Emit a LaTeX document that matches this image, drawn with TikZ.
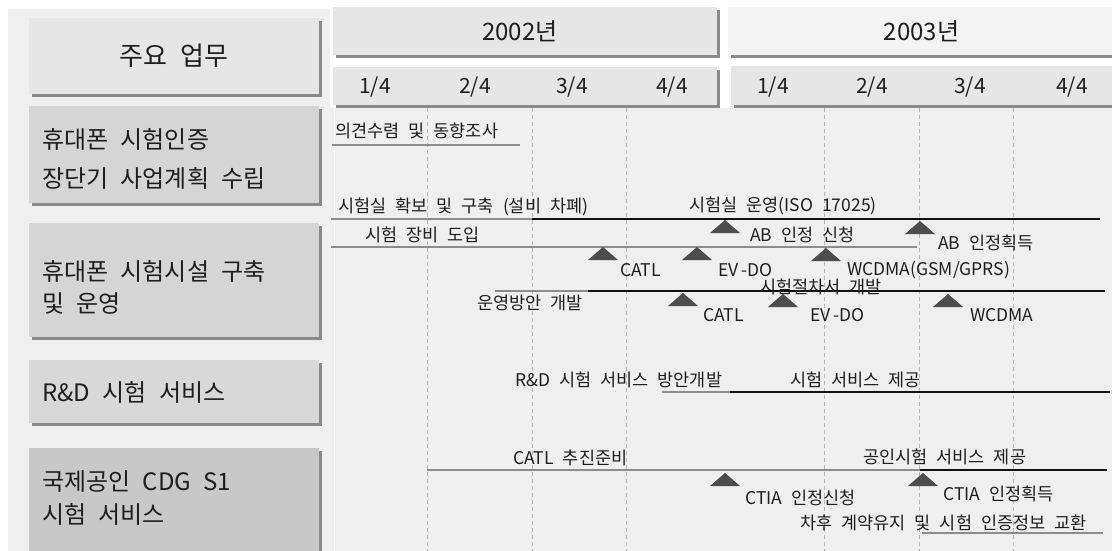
\documentclass[tikz,border=0pt]{standalone}
\usepackage{fontspec}
\setmainfont{Noto Sans CJK KR}[WordSpace=2.3]
\usetikzlibrary{shadows}
\definecolor{bgc}{HTML}{EFEFEF}
\definecolor{shd}{HTML}{8A8A8A}
\definecolor{hdr}{HTML}{E6E6E6}
\definecolor{hdrlight}{HTML}{F3F3F3}
\definecolor{boxA}{HTML}{D5D5D5}
\definecolor{boxB}{HTML}{D8D8D8}
\definecolor{boxC}{HTML}{C8C8C8}
\definecolor{txt}{HTML}{1E1E1E}
\definecolor{barg}{HTML}{8C8C8C}
\definecolor{bark}{HTML}{111111}
\definecolor{msc}{HTML}{4D4D4D}
\definecolor{gridc}{HTML}{B4B4B4}
\tikzset{
  sbox/.style={draw=none, inner sep=0pt, text=txt,
    drop shadow={shadow xshift=3pt, shadow yshift=-3pt, fill=shd, opacity=1}},
  ltext/.style={inner sep=0pt, anchor=west, align=left, text=txt},
  lab/.style={inner sep=0pt, anchor=west, text=txt, font=\fontsize{17.5}{20}\selectfont},
  qlab/.style={inner sep=0pt, text=txt, font=\fontsize{21}{24}\selectfont},
  graybar/.style={draw=barg, line width=1.6pt},
  blackbar/.style={draw=bark, line width=1.8pt},
  gridline/.style={draw=gridc, line width=0.8pt, dash pattern=on 4pt off 3pt},
  ms/.pic={\fill[msc] (-15,13) -- (0,0) -- (15,13) -- cycle;}
}
\begin{document}
\begin{tikzpicture}[x=1pt,y=-1pt]
\useasboundingbox (0,0) rectangle (1112,551);
\fill[white] (0,0) rectangle (1112,551);
\fill[bgc] (8,9) rectangle (330,551);
\fill[bgc] (330,108) rectangle (1112,551);
\draw[white!60!bgc, line width=1pt] (334,108) -- (334,551);

% left column boxes
\node[sbox, fill=hdr, minimum width=290pt, minimum height=76pt, font=\fontsize{26}{30}\selectfont] (hd) at (174,56) {주요 업무};
\node[sbox, fill=boxA, minimum width=290pt, minimum height=97pt] (b2) at (174,154.5) {};
\node[sbox, fill=boxA, minimum width=290pt, minimum height=114pt] (b3) at (174,280) {};
\node[sbox, fill=boxB, minimum width=290pt, minimum height=63pt] (b4) at (174,391.5) {};
\node[sbox, fill=boxC, minimum width=290pt, minimum height=112pt] (b5) at (174,504) {};

\node[ltext, font=\fontsize{24}{39}\selectfont] (l2) at (42,158.5) {휴대폰 시험인증\\장단기 사업계획 수립};
\node[ltext, font=\fontsize{24}{32}\selectfont] (l3) at (42,287) {휴대폰 시험시설 구축\\및 운영};
\node[ltext, font=\fontsize{24}{32}\selectfont] (l4) at (42,392) {R\&D 시험 서비스};
\node[ltext, font=\fontsize{24}{33}\selectfont] (l5) at (42,498.5) {국제공인 CDG S1\\시험 서비스};

% header boxes
\node[sbox, fill=hdr, minimum width=384pt, minimum height=48pt, font=\fontsize{24}{28}\selectfont] (y2) at (525,31) {\hspace*{-10pt}2002년};
\node[sbox, fill=hdr, minimum width=384pt, minimum height=38pt] (q2) at (525,86) {};
\node[sbox, fill=hdrlight, minimum width=387pt, minimum height=48pt, font=\fontsize{24}{28}\selectfont] (y3) at (921.5,31) {2003년};
\node[sbox, fill=hdr, minimum width=384pt, minimum height=39pt] (q3) at (923,85.5) {};

\node[qlab] (q21) at (375,87.5) {1/4};
\node[qlab] (q22) at (475,87.5) {2/4};
\node[qlab] (q23) at (572,87.5) {3/4};
\node[qlab] (q24) at (672,87.5) {4/4};
\node[qlab] (q31) at (773,87.5) {1/4};
\node[qlab] (q32) at (872,87.5) {2/4};
\node[qlab] (q33) at (970,87.5) {3/4};
\node[qlab] (q34) at (1072,87.5) {4/4};

% grid lines
\foreach \gx in {427,532,626,824,919,1013}
  \draw[gridline] (\gx,108) -- (\gx,551);

% row 1
\node[lab] (t1) at (335,131) {의견수렴 및 동향조사};
\draw[graybar] (332,145) -- (520,145);

% row 2
\node[lab] (t2) at (338,207) {시험실 확보 및 구축 (설비 차폐)};
\node[lab] (t3) at (689,206) {시험실 운영(ISO 17025)};
\draw[graybar] (331,219) -- (532,219);
\draw[blackbar] (532,219) -- (1100,219);
\pic at (725,220) {ms};
\node[lab] (t4) at (750,235) {AB 인정 신청};
\pic at (920,221) {ms};
\node[lab] (t5) at (938,243) {AB 인정획득};

\node[lab] (t6) at (365,235) {시험 장비 도입};
\draw[graybar] (331,247) -- (917,247);
\pic at (603,247) {ms};
\node[lab] (t7) at (620,270) {CATL};
\pic at (697,247) {ms};
\node[lab] (t8) at (718,270) {EV\kern3pt-DO};
\pic at (826,248) {ms};
\node[lab] (t9) at (847,270) {WCDMA(GSM/GPRS)};

\node[lab] (t10) at (477,303) {운영방안 개발};
\draw[graybar] (495,291) -- (588,291);
\draw[blackbar] (588,291) -- (1105,291);
\node[lab] (t11) at (760,287) {시험절차서 개발};
\pic at (683,293) {ms};
\node[lab] (t12) at (703,315) {CATL};
\pic at (783,294) {ms};
\node[lab] (t13) at (810,315) {EV\kern3pt-DO};
\pic at (948,294) {ms};
\node[lab] (t14) at (970,315) {WCDMA};

% row 4
\node[lab] (t15) at (515,380) {R\&D 시험 서비스 방안개발};
\draw[graybar] (662,392) -- (730,392);
\draw[blackbar] (730,392) -- (1110,392);
\node[lab] (t16) at (790,380) {시험 서비스 제공};

% row 5
\node[lab] (t17) at (513,458) {CATL 추진준비};
\draw[graybar] (427,470) -- (920,470);
\draw[blackbar] (920,470) -- (1107,470);
\node[lab] (t18) at (863,457) {공인시험 서비스 제공};
\pic at (725,473) {ms};
\node[lab] (t19) at (745,498) {CTIA 인정신청};
\pic at (923,473) {ms};
\node[lab] (t20) at (943,494) {CTIA 인정획득};
\node[lab] (t21) at (800,523) {차후 계약유지 및 시험 인증정보 교환};
\draw[graybar] (922,533) -- (1103,533);
\end{tikzpicture}
\end{document}
